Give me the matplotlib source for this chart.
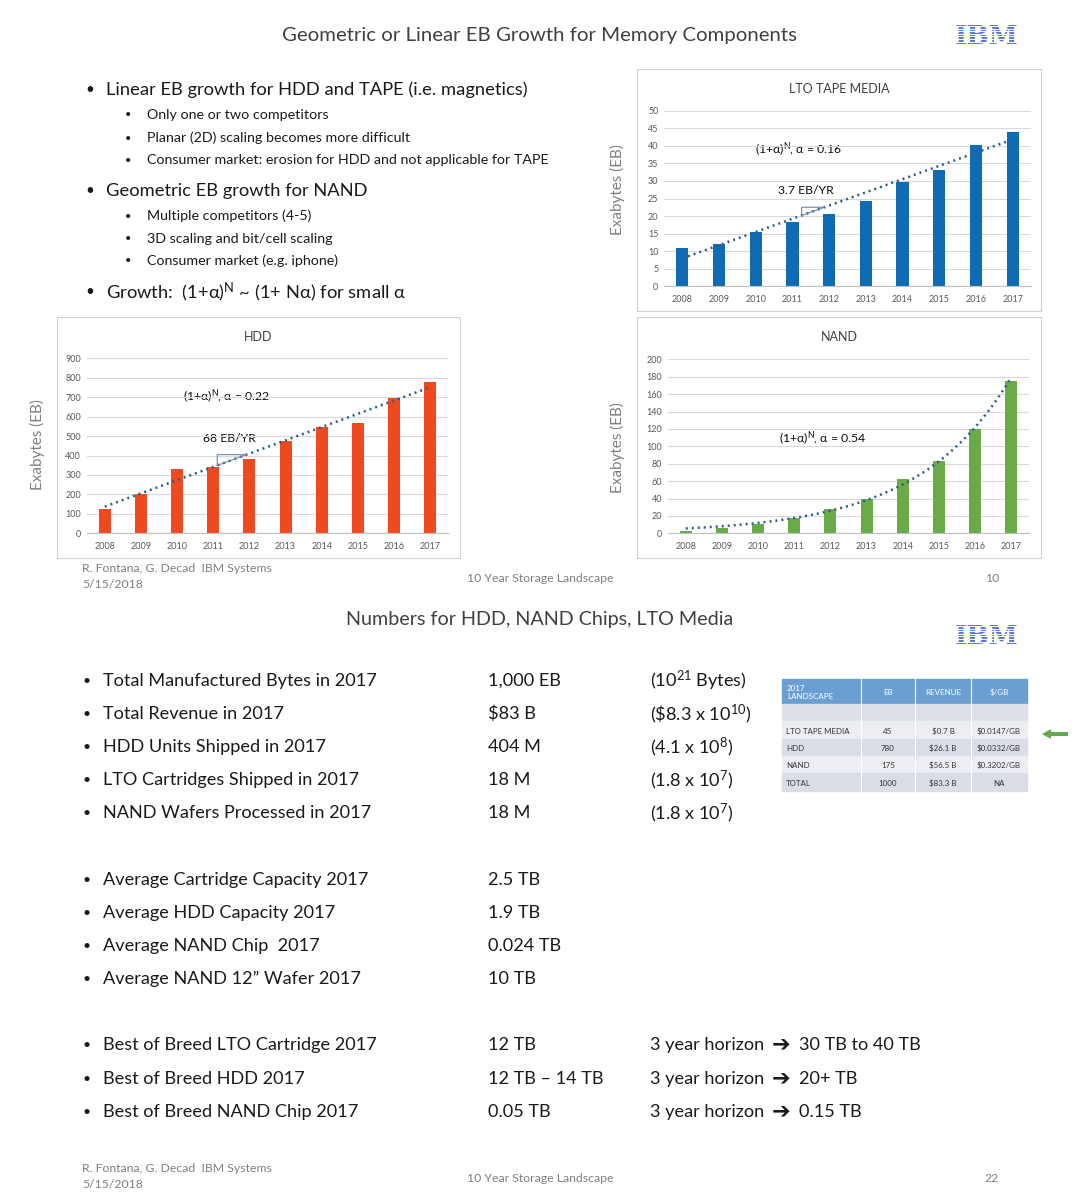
import numpy as np
import matplotlib.pyplot as plt
from matplotlib.patches import Rectangle, FancyArrow

plt.rcParams['font.family'] = ['Lato', 'DejaVu Sans']
plt.rcParams['mathtext.fontset'] = 'custom'
plt.rcParams['mathtext.rm'] = 'Lato'
plt.rcParams['mathtext.default'] = 'regular'

# chart data (exabytes shipped per year)
years = ['2008', '2009', '2010', '2011', '2012', '2013', '2014', '2015', '2016', '2017']
lto_eb = [11, 12, 15.5, 18.3, 20.6, 24.3, 29.8, 33, 40.3, 44]
hdd_eb = [125, 200, 330, 340, 383, 473, 548, 567, 695, 780]
nand_eb = [3, 6, 11, 18, 28, 40, 62, 83, 120, 175]

top_bullets = [
    (0, 'Linear EB growth for HDD and TAPE (i.e. magnetics)'),
    (1, 'Only one or two competitors'),
    (1, 'Planar (2D) scaling becomes more difficult'),
    (1, 'Consumer market: erosion for HDD and not applicable for TAPE'),
    (0, 'Geometric EB growth for NAND'),
    (1, 'Multiple competitors (4-5)'),
    (1, '3D scaling and bit/cell scaling'),
    (1, 'Consumer market (e.g. iphone)'),
    (0, 'Growth:  (1+α)$^{N}$ ~ (1+ Nα) for small α'),
]
top_bullet_y = [88, 113, 136, 158, 189, 214, 237, 259, 290]

fact_labels = ['Total Manufactured Bytes in 2017', 'Total Revenue in 2017', 'HDD Units Shipped in 2017',
               'LTO Cartridges Shipped in 2017', 'NAND Wafers Processed in 2017',
               'Average Cartridge Capacity 2017', 'Average HDD Capacity 2017', 'Average NAND Chip  2017',
               'Average NAND 12\u201d Wafer 2017',
               'Best of Breed LTO Cartridge 2017', 'Best of Breed HDD 2017', 'Best of Breed NAND Chip 2017']
fact_values = ['1,000 EB', '$83 B', '404 M', '18 M', '18 M',
               '2.5 TB', '1.9 TB', '0.024 TB', '10 TB',
               '12 TB', '12 TB \u2013 14 TB', '0.05 TB']
fact_notes = [r'(10$^{21}$ Bytes)', r'(\$8.3 x 10$^{10}$)', r'(4.1 x 10$^{8}$)', r'(1.8 x 10$^{7}$)',
              r'(1.8 x 10$^{7}$)', '', '', '', '',
              '30 TB to 40 TB', '20+ TB', '0.15 TB']
fact_y = [679, 712, 745, 778, 811, 878, 911, 944, 977, 1043, 1077, 1110]

table_head = ['2017\nLANDSCAPE', 'EB', 'REVENUE', '$/GB']
table_rows = [['LTO TAPE MEDIA', '45', '$0.7 B', '$0.0147/GB'],
              ['HDD', '780', '$26.1 B', '$0.0332/GB'],
              ['NAND', '175', '$56.5 B', '$0.3202/GB'],
              ['TOTAL', '1000', '$83.3 B', 'NA']]

W, H = 1081, 1200
fig = plt.figure(figsize=(W / 100, H / 100), dpi=100)
bg = fig.add_axes([0, 0, 1, 1], zorder=0)
bg.set_xlim(0, W)
bg.set_ylim(H, 0)
bg.axis('off')

DY = 2  # small nudge so text sits like the slide


def px_axes(left, top, right, bottom):
    ax = fig.add_axes([left / W, 1 - bottom / H, (right - left) / W, (bottom - top) / H], zorder=2)
    ax.patch.set_alpha(0)
    return ax


def ibm_logo(cx, cy):
    bg.text(cx, cy, 'IBM', ha='center', va='center', fontsize=19, fontweight='bold',
            family='DejaVu Serif', color='#5d7bd6')
    for yy in np.arange(cy - 11, cy + 11, 2.6):
        bg.plot([cx - 36, cx + 36], [yy, yy], color='white', lw=0.7, zorder=5)


def bar_chart(ax, vals, color, ymax, step, kind):
    x = np.arange(len(years))
    ax.bar(x, vals, width=0.33, color=color, zorder=2)
    xs = np.linspace(0, len(years) - 1, 200)
    if kind == 'linear':
        coef = np.polyfit(x, vals, 1)
        ys = np.polyval(coef, xs)
    else:
        coef = np.polyfit(x, np.log(vals), 1, w=np.sqrt(vals))
        ys = np.exp(np.polyval(coef, xs))
    ax.plot(xs, ys, color='#2c5c8c', lw=1.8, ls=(0, (0.8, 1.6)), zorder=3)
    ax.set_xlim(-0.5, len(years) - 0.5)
    ax.set_ylim(0, ymax)
    ax.set_yticks(np.arange(0, ymax + step, step))
    ax.set_xticks(x)
    ax.set_xticklabels(years)
    ax.grid(axis='y', color='#d9d9d9', lw=0.8, zorder=0)
    ax.set_axisbelow(True)
    for s in ['top', 'left', 'right']:
        ax.spines[s].set_visible(False)
    ax.spines['bottom'].set_color('#bfbfbf')
    ax.tick_params(length=0, labelsize=6.5, colors='#595959')
    ax.tick_params(axis='x', pad=6)
    ax.tick_params(axis='y', pad=4)
    return coef


def slope_box(ax, coef, x0, x1):
    y0 = np.polyval(coef, x0)
    y1 = np.polyval(coef, x1)
    ax.plot([x0, x0, x1, x0], [y0, y1, y1, y0], color='#6a8aa8', lw=0.8, zorder=4)


def note(x, y, s, size=8.8):
    bg.text(x, y + 1, s, ha='center', va='center', fontsize=size, color='#0d0d0d', zorder=6)


# ---------- slide 10 ----------
bg.text(540, 33 + DY, 'Geometric or Linear EB Growth for Memory Components', ha='center', va='center',
        fontsize=14.7, color='#404040')
ibm_logo(987, 37)

for (lvl, txt), yy in zip(top_bullets, top_bullet_y):
    if lvl == 0:
        bg.text(90, yy + DY, '\u2022', ha='center', va='center', fontsize=11, color='#1a1a1a')
        bg.text(106, yy + DY, txt, ha='left', va='center', fontsize=13.25, color='#1a1a1a')
    else:
        bg.text(128, yy + DY, '\u2022', ha='center', va='center', fontsize=8, color='#1a1a1a')
        bg.text(147, yy + DY, txt, ha='left', va='center', fontsize=10.3, color='#1a1a1a')

for (l, t, r, b) in [(637, 69, 1041, 311), (57, 317, 460, 558), (637, 317, 1041, 558)]:
    bg.add_patch(Rectangle((l, t), r - l, b - t, fill=False, ec='#d0d0d0', lw=0.8))

ax_lto = px_axes(664, 110.7, 1031, 286.3)
c_lto = bar_chart(ax_lto, lto_eb, '#0f6cb4', 50, 5, 'linear')
slope_box(ax_lto, c_lto, 3.25, 3.87)
bg.text(839, 89, 'LTO TAPE MEDIA', ha='center', va='center', fontsize=9, color='#404040')
note(799, 148, r'(1+α)$^{N}$, α = 0.16')
note(806, 190, '3.7 EB/YR')
bg.text(617, 190, 'Exabytes (EB)', ha='center', va='center', rotation=90, fontsize=11, color='#7f7f7f')

ax_hdd = px_axes(86.7, 358.3, 448.3, 533.3)
c_hdd = bar_chart(ax_hdd, hdd_eb, '#ef4a1f', 900, 100, 'linear')
slope_box(ax_hdd, c_hdd, 3.11, 3.92)
bg.text(258, 337, 'HDD', ha='center', va='center', fontsize=9, color='#404040')
note(227, 395, r'(1+α)$^{N}$, α = 0.22')
note(229, 437, '68 EB/YR')
bg.text(37, 445, 'Exabytes (EB)', ha='center', va='center', rotation=90, fontsize=11, color='#7f7f7f')

ax_nand = px_axes(667.7, 359.3, 1029.3, 533.3)
bar_chart(ax_nand, nand_eb, '#6aaa48', 200, 20, 'exp')
bg.text(839, 337, 'NAND', ha='center', va='center', fontsize=9, color='#404040')
note(823, 437, r'(1+α)$^{N}$, α = 0.54')
bg.text(617, 448, 'Exabytes (EB)', ha='center', va='center', rotation=90, fontsize=11, color='#7f7f7f')


def footer(y0, page):
    kw = dict(va='center', fontsize=8.8, color='#7f7f7f')
    bg.text(82, y0 - 8, 'R. Fontana, G. Decad  IBM Systems', ha='left', **kw)
    bg.text(82, y0 + 8, '5/15/2018', ha='left', **kw)
    bg.text(540, y0 + 1, '10 Year Storage Landscape', ha='center', **kw)
    bg.text(992, y0 + 1, page, ha='center', **kw)


footer(577, '10')

# ---------- slide 22 ----------
bg.text(540, 618 + DY, 'Numbers for HDD, NAND Chips, LTO Media', ha='center', va='center',
        fontsize=14.2, color='#404040')
ibm_logo(987, 637)

for i, (lab, val, nt, yy) in enumerate(zip(fact_labels, fact_values, fact_notes, fact_y)):
    y = yy + DY
    bg.text(87, y, '\u2022', ha='center', va='center', fontsize=10, color='#1a1a1a')
    bg.text(103, y, lab, ha='left', va='center', fontsize=13.1, color='#1a1a1a')
    bg.text(488, y, val.replace('$', r'\$'), ha='left', va='center', fontsize=13.1, color='#1a1a1a')
    if not nt:
        continue
    if i >= 9:
        # "3 year horizon" + heavy arrow + target
        bg.text(650, y, '3 year horizon', ha='left', va='center', fontsize=13.1, color='#1a1a1a')
        bg.text(781, y, '\u2794', ha='center', va='center', fontsize=16, fontweight='bold',
                family='DejaVu Sans', color='#1a1a1a')
        bg.text(799, y, nt, ha='left', va='center', fontsize=13.1, color='#1a1a1a')
    else:
        bg.text(650, y, nt, ha='left', va='center', fontsize=13.1, color='#1a1a1a')

# landscape table
col_x = [782, 861, 915, 971, 1027]
row_y = [679, 704, 721, 739, 756, 773, 791]
bg.add_patch(Rectangle((col_x[0], row_y[0]), col_x[-1] - col_x[0], row_y[1] - row_y[0], color='#6a9fd2'))
bg.add_patch(Rectangle((col_x[0], row_y[1]), col_x[-1] - col_x[0], row_y[2] - row_y[1], color='#dce1e9'))
for i in range(len(table_rows)):
    fc = '#eceef3' if i % 2 == 0 else '#d9dde5'
    bg.add_patch(Rectangle((col_x[0], row_y[i + 2]), col_x[-1] - col_x[0], row_y[i + 3] - row_y[i + 2], color=fc))
for xx in col_x[1:-1]:
    bg.plot([xx, xx], [row_y[0], row_y[-1]], color='white', lw=0.8)
for j, h in enumerate(table_head):
    if j == 0:
        bg.text(col_x[0] + 5, (row_y[0] + row_y[1]) / 2 + 1, h, ha='left', va='center', fontsize=5.8,
                color='white', linespacing=1.15)
    else:
        bg.text((col_x[j] + col_x[j + 1]) / 2, (row_y[0] + row_y[1]) / 2 + 1, h.replace('$', r'\$'),
                ha='center', va='center', fontsize=5.8, color='white')
for i, row in enumerate(table_rows):
    yy = (row_y[i + 2] + row_y[i + 3]) / 2 + 1
    for j, cell in enumerate(row):
        cell = cell.replace('$', r'\$')
        if j == 0:
            bg.text(col_x[0] + 4, yy, cell, ha='left', va='center', fontsize=5.7, color='#333333')
        else:
            bg.text((col_x[j] + col_x[j + 1]) / 2, yy, cell, ha='center', va='center', fontsize=5.7,
                    color='#333333')

bg.add_patch(FancyArrow(1068, 734, -17, 0, width=4, head_width=10, head_length=9, color='#64a852', lw=0))

footer(1177, '22')

fig.savefig('out.png', dpi=100, facecolor='white')
